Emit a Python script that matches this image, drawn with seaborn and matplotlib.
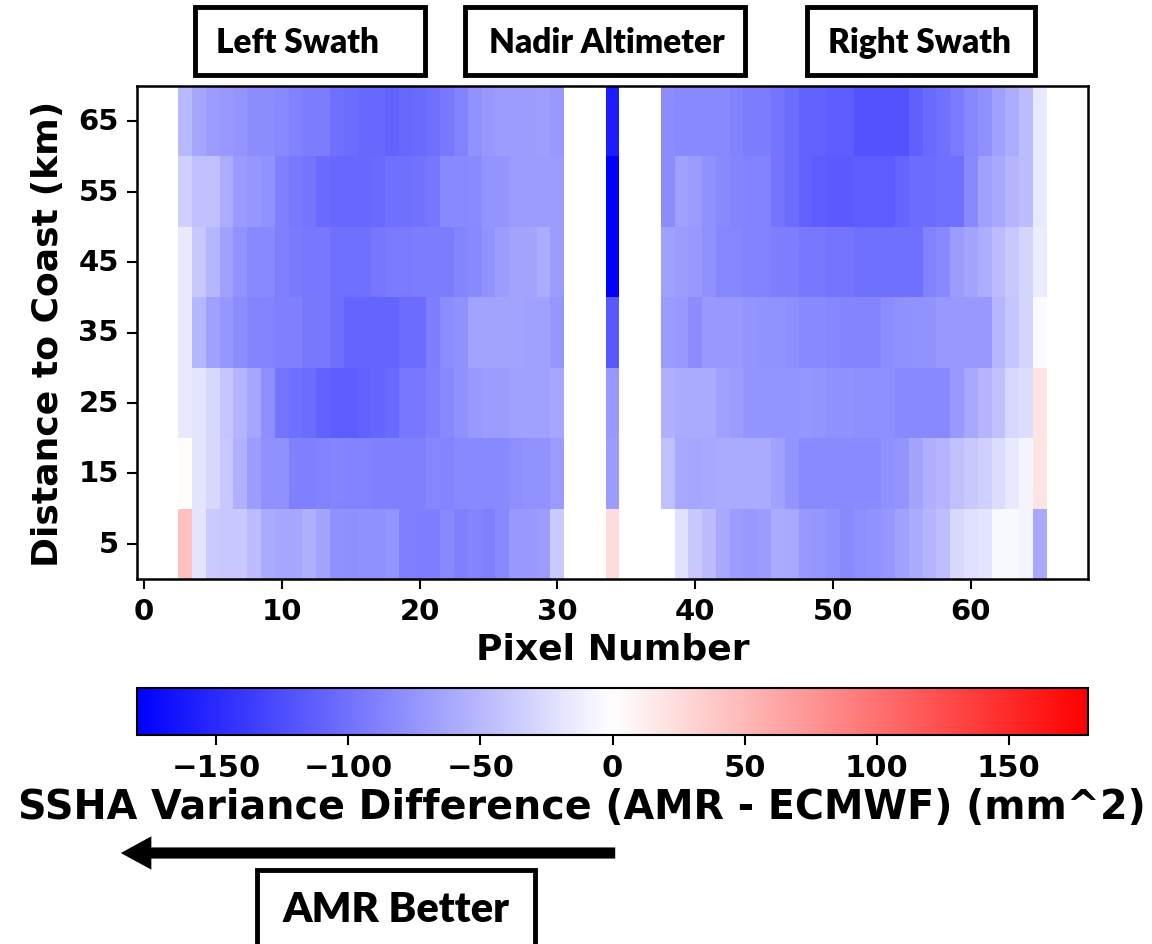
import numpy as np
import pandas as pd
import matplotlib
matplotlib.use("Agg")
import matplotlib.pyplot as plt
import seaborn as sns
from matplotlib.patches import Rectangle, FancyArrowPatch

# --- data ---
distance_km = [65, 55, 45, 35, 25, 15, 5]
n_pixels = 69
left_pixels = list(range(3, 31))
nadir_pixel = 34
right_pixels = list(range(38, 66))
x_ticks = [0, 10, 20, 30, 40, 50, 60]
cbar_ticks = [-150, -100, -50, 0, 50, 100, 150]

# SSHA variance difference (mm^2), rows = distance to coast, top to bottom
left_swath = [
    [-50, -62, -69, -72, -75, -81, -81, -84, -88, -92, -92, -100, -104, -106, -106, -110, -106, -105, -101, -95, -88, -77, -73, -70, -70, -69, -68, -73],
    [-33, -44, -44, -58, -71, -74, -76, -90, -95, -98, -105, -106, -106, -106, -105, -101, -101, -99, -96, -84, -84, -82, -75, -75, -71, -70, -70, -70],
    [-16, -39, -52, -67, -77, -84, -84, -90, -93, -95, -95, -101, -101, -101, -97, -94, -94, -92, -92, -92, -87, -84, -77, -70, -64, -64, -59, -70],
    [-16, -52, -67, -74, -81, -86, -86, -90, -90, -95, -95, -102, -109, -109, -109, -109, -104, -104, -91, -81, -78, -66, -66, -66, -66, -67, -67, -74],
    [-16, -19, -28, -42, -53, -63, -80, -98, -100, -104, -111, -114, -114, -111, -108, -105, -95, -95, -90, -84, -78, -73, -70, -70, -67, -67, -67, -63],
    [2, -19, -28, -39, -56, -70, -78, -78, -90, -90, -88, -87, -88, -88, -90, -90, -90, -90, -85, -87, -84, -84, -83, -83, -80, -77, -76, -71],
    [44, -19, -37, -39, -39, -47, -60, -63, -63, -56, -64, -78, -80, -78, -78, -75, -90, -91, -91, -83, -90, -87, -90, -84, -73, -73, -70, -37],
]
nadir = [-160, -185, -185, -118, -73, -70, 25]
right_swath = [
    [-81, -83, -84, -84, -84, -88, -92, -92, -98, -104, -111, -111, -114, -114, -121, -121, -121, -121, -112, -105, -101, -94, -85, -78, -67, -59, -47, -16],
    [-81, -67, -71, -78, -83, -86, -88, -88, -98, -104, -111, -114, -116, -116, -115, -115, -114, -109, -104, -104, -101, -101, -84, -67, -61, -53, -47, -16],
    [-67, -70, -73, -78, -85, -85, -88, -88, -91, -91, -95, -95, -98, -98, -101, -101, -101, -101, -101, -88, -84, -70, -64, -57, -47, -39, -30, -13],
    [-71, -73, -81, -73, -72, -72, -75, -76, -77, -80, -84, -84, -85, -87, -87, -87, -81, -78, -76, -77, -73, -73, -73, -72, -52, -40, -30, -3],
    [-56, -60, -60, -60, -67, -70, -75, -75, -75, -75, -74, -75, -78, -78, -80, -80, -80, -83, -83, -83, -83, -72, -61, -53, -45, -28, -25, 19],
    [-45, -61, -63, -61, -60, -60, -60, -60, -67, -75, -82, -82, -82, -82, -82, -82, -78, -75, -64, -56, -53, -45, -39, -33, -25, -16, -8, 19],
    [-1, -22, -39, -47, -61, -70, -72, -70, -60, -61, -72, -74, -78, -84, -80, -77, -74, -67, -60, -53, -46, -27, -22, -19, -5, -5, -8, -61],
]

grid = np.full((len(distance_km), n_pixels), np.nan)
for i in range(len(distance_km)):
    grid[i, left_pixels] = left_swath[i]
    grid[i, nadir_pixel] = nadir[i]
    grid[i, right_pixels] = right_swath[i]
df = pd.DataFrame(grid, index=distance_km, columns=range(n_pixels))

W, H = 1152, 945


def fx(x):
    return x / W


def fy(y):
    return 1 - y / H


plt.rcParams['font.family'] = ['DejaVu Sans']
plt.rcParams['font.weight'] = 'bold'
plt.rcParams['axes.labelweight'] = 'bold'

fig = plt.figure(figsize=(W / 100, H / 100), dpi=100)
ax = fig.add_axes([fx(137), fy(580), fx(1088) - fx(137), fy(87) - fy(580)])
cax = fig.add_axes([fx(137), fy(736), fx(1088) - fx(137), fy(689) - fy(736)])

sns.heatmap(df, ax=ax, cmap="bwr", vmin=-180, vmax=180, cbar_ax=cax,
            cbar_kws={"orientation": "horizontal", "ticks": cbar_ticks})

# numeric axes like the original imshow
ax.set_xticks([t + 0.5 for t in x_ticks])
ax.set_xticklabels([str(t) for t in x_ticks], rotation=0, fontsize=21, fontweight='bold')
ax.set_yticks(np.arange(len(distance_km)) + 0.5)
ax.set_yticklabels([str(d) for d in distance_km], rotation=0, fontsize=21, fontweight='bold')
ax.tick_params(axis='both', direction='out', length=7, width=1.5, pad=6)
for s in ax.spines.values():
    s.set_visible(True)
    s.set_linewidth(1.8)
    s.set_color('black')
ax.set_xlabel("Pixel Number", fontsize=26, fontweight='bold', labelpad=5)
ax.set_ylabel("Distance to Coast (km)", fontsize=26, fontweight='bold', labelpad=10)

cb = ax.collections[0].colorbar
cb.outline.set_visible(True)
cb.outline.set_linewidth(1.5)
cb.outline.set_edgecolor('black')
cax.tick_params(direction='out', length=7, width=1.5, labelsize=22, pad=6)
for lab in cax.get_xticklabels():
    lab.set_fontweight('bold')
fig.text(fx(582), fy(808), "SSHA Variance Difference (AMR - ECMWF) (mm^2)",
         ha='center', va='center', fontsize=28.5, fontweight='bold')

# labelled boxes above the heatmap (text x centre, box left, box right)
boxes = [("Left Swath", 298, 195, 425), ("Nadir Altimeter", 607, 465, 745),
         ("Right Swath", 919, 807, 1035)]
for label, xc, x0, x1 in boxes:
    fig.add_artist(Rectangle((fx(x0), fy(76)), fx(x1) - fx(x0), fy(8) - fy(76),
                             transform=fig.transFigure, fill=False, lw=3.5, ec='black'))
    fig.text(fx(xc), fy(43), label, ha='center', va='center',
             fontsize=24, fontweight='heavy', family=['Lato', 'DejaVu Sans'])

# arrow and "AMR Better" box
fig.add_artist(FancyArrowPatch((fx(618), fy(854)), (fx(118), fy(854)),
                               transform=fig.transFigure,
                               arrowstyle='simple,head_length=22,head_width=24,tail_width=8',
                               mutation_scale=1, color='black', lw=0))
fig.add_artist(Rectangle((fx(257), fy(960)), fx(535) - fx(257), fy(871) - fy(960),
                         transform=fig.transFigure, fill=False, lw=3.5, ec='black'))
fig.text(fx(396), fy(910), "AMR Better", ha='center', va='center',
         fontsize=30, fontweight='heavy', family=['Lato', 'DejaVu Sans'])

fig.savefig("out.png", dpi=100)
